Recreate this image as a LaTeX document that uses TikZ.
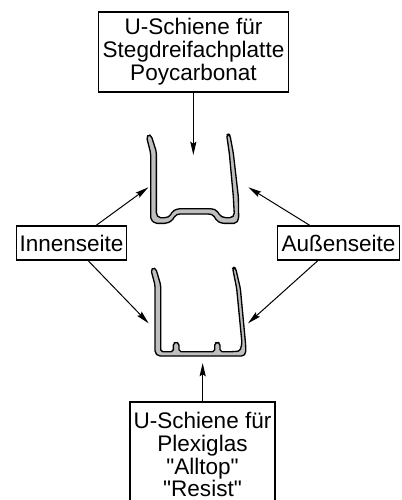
\documentclass[tikz,border=0pt]{standalone}
\usepackage{fontspec}
\newfontfamily\labelfont{Liberation Sans}
\usetikzlibrary{arrows.meta}
\tikzset{
  px/.style={x=0.75pt,y=-0.75pt},
  labelbox/.style={draw=black,line width=0.8pt,fill=white,inner sep=0pt,align=center,font=\labelfont\fontsize{16.9pt}{17.2pt}\selectfont},
  pointer/.style={draw=black,line width=0.75pt,-{Stealth[length=10pt,width=4.6pt,inset=1.5pt]}},
  profile/.style={draw=black,line width=1pt,fill=black!25,line join=round,rounded corners=1.4pt}
}
\begin{document}
\begin{tikzpicture}[px]
\useasboundingbox (0,0) rectangle (402,500);
\node[labelbox,minimum width=142pt,minimum height=60pt] (top) at (193.5,52) {U-Schiene für\\Stegdreifachplatte\\Poycarbonat};
\node[labelbox,minimum width=83pt,minimum height=25.5pt] (inner) at (71.5,243) {Innenseite};
\node[labelbox,minimum width=92pt,minimum height=25.5pt] (outer) at (338.5,243) {Außenseite};
\node[labelbox,minimum width=108.75pt,minimum height=78.75pt] (bottom) at (202.5,454.5) {U-Schiene für\\Plexiglas\\"Alltop"\\"Resist"};
% upper profile
\begin{scope}[shift={(130,120)},x=0.25pt,y=-0.25pt]
\draw[profile] (50,52) -- (56,43) -- (64,48) -- (79,95) -- (79,283) -- (86,293) -- (110,293) -- (120,288) -- (128,273) -- (145,266) -- (245,266) -- (260,271) -- (270,287) -- (282,293) -- (305,293) -- (313,285) -- (310,230) -- (298,100) -- (290,45) -- (296,42) -- (300,46) -- (310,100) -- (325,230) -- (326,297) -- (318,310) -- (275,310) -- (260,302) -- (250,285) -- (240,282) -- (145,282) -- (136,286) -- (126,302) -- (110,310) -- (75,310) -- (62,298) -- (62,100) -- cycle;
\coordinate (ua) at (190,105);
\coordinate (ub) at (55,202);
\coordinate (uc) at (355,202);
\end{scope}
% lower profile
\begin{scope}[shift={(130,255)},x=0.25pt,y=-0.25pt]
\draw[profile] (63,45) -- (70,38) -- (78,42) -- (92,90) -- (92,290) -- (130,290) -- (130,265) -- (138,261) -- (147,265) -- (147,290) -- (254,290) -- (254,265) -- (262,261) -- (270,265) -- (270,290) -- (310,290) -- (330,288) -- (336,265) -- (320,100) -- (308,40) -- (312,37) -- (317,40) -- (331,100) -- (347,270) -- (347,296) -- (340,303) -- (85,303) -- (75,293) -- (75,90) -- cycle;
\coordinate (la) at (56,205);
\coordinate (lb) at (354,205);
\coordinate (lc) at (218,324);
\end{scope}
\draw[pointer] (top.south -| ua) -- (ua);
\draw[pointer] ([xshift=18.4pt]inner.north) -- (ub);
\draw[pointer] ([xshift=-21.4pt]outer.north) -- (uc);
\draw[pointer] ([xshift=12.4pt]inner.south) -- (la);
\draw[pointer] ([xshift=-15.4pt]outer.south) -- (lb);
\draw[pointer] (bottom.north -| lc) -- (lc);
\end{tikzpicture}
\end{document}
